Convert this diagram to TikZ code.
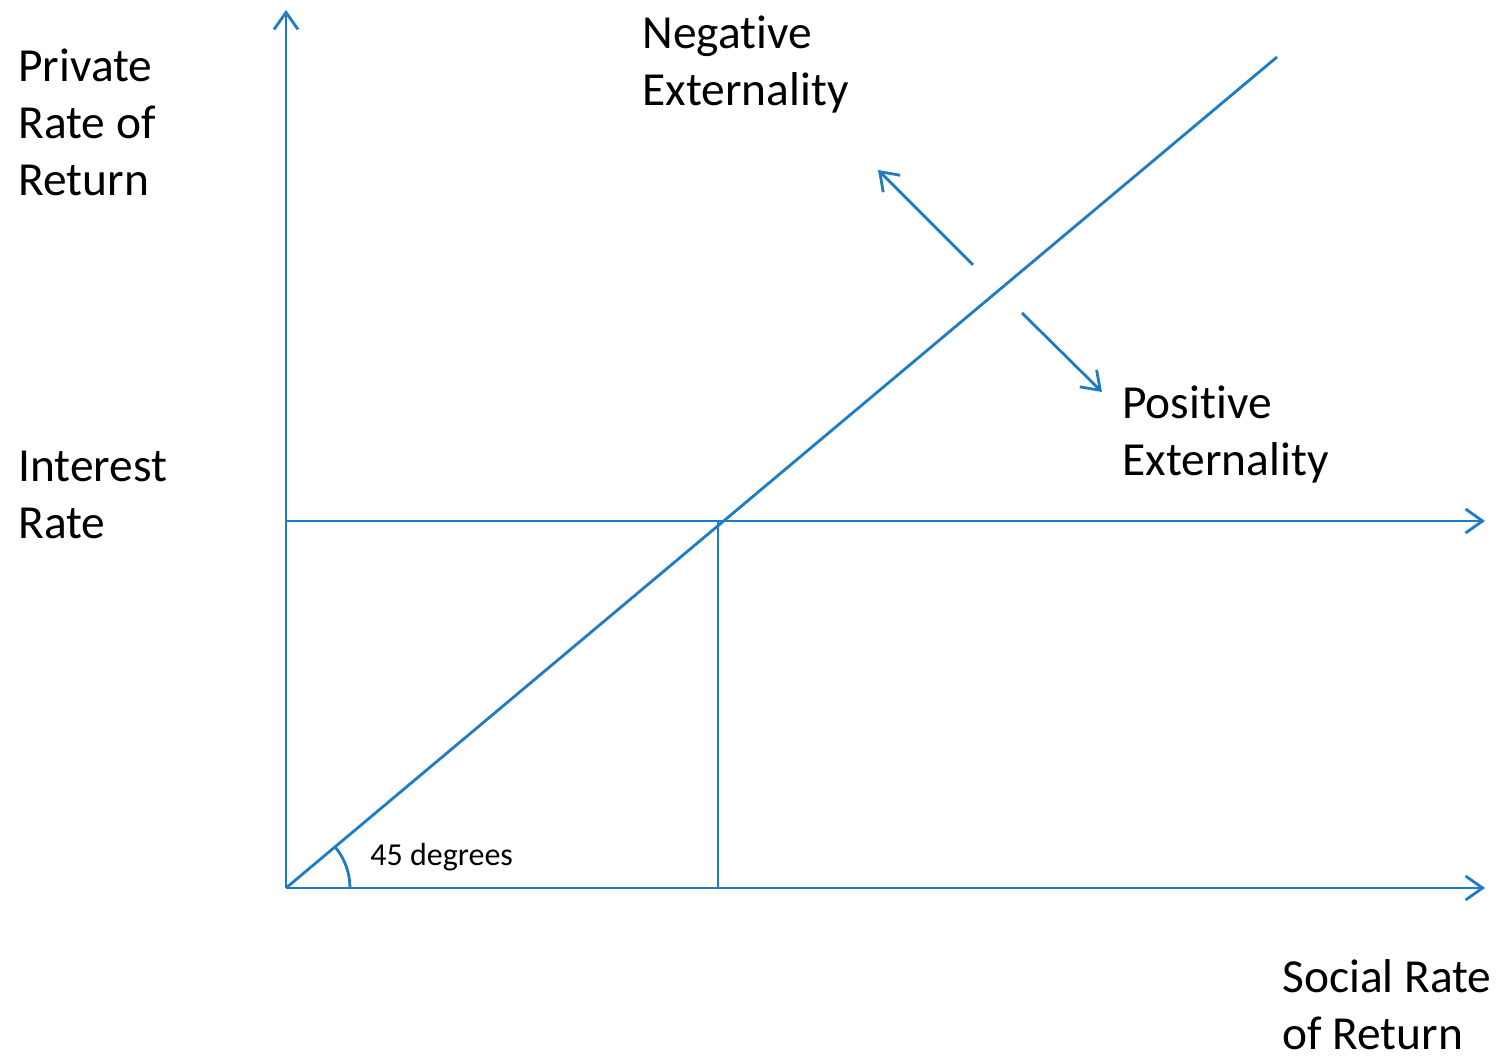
\documentclass[tikz,border=0pt]{standalone}
\usepackage{fontspec}
\setmainfont{Carlito}[Ligatures=NoCommon]
\usepackage{tikz}
\usetikzlibrary{positioning}
\usetikzlibrary{arrows.meta}
\definecolor{lineblue}{RGB}{31,124,196}

\begin{document}
\begin{tikzpicture}[line width=0.8pt, draw=lineblue, every node/.style={inner sep=0, align=left, font=\fontsize{13.5}{16.3}\selectfont}]
		\tikzset{>={Straight Barb[length=1.7mm, width=2.4mm]}}
		\tikzset{small/.style={font=\fontsize{9.1}{11}\selectfont}}
		\useasboundingbox (0,0) rectangle (15,10.59);

		\coordinate (origin) at (2.86,1.71);
		\coordinate (ytop) at (2.86,10.49);
		\coordinate (xend) at (14.85,1.71);
		\coordinate (rate) at (2.86,5.38);
		\coordinate (rateend) at (14.85,5.38);
		\coordinate (cross) at (7.18,5.38);
		\coordinate (crossfoot) at (7.18,1.71);
		\coordinate (diagend) at (12.77,10.02);

		% axes
		\draw[->, lineblue] (origin) -- (ytop);
		\draw[->, lineblue] (origin) -- (xend);
		\draw[->, lineblue] (rate) -- (rateend);
		\draw[lineblue] (cross) -- (crossfoot);
		\draw[lineblue] (origin) -- (diagend);
		\draw[lineblue] ([shift={(0.64,0)}]origin) arc[start angle=0, end angle=40, radius=0.64];

		% externality arrows
		\coordinate (negstart) at (9.73,7.94);
		\coordinate (negend) at (8.78,8.89);
		\coordinate (posstart) at (10.22,7.46);
		\coordinate (posend) at (11.02,6.67);
		\draw[->, lineblue] (negstart) -- (negend);
		\draw[->, lineblue] (posstart) -- (posend);

		% labels (base = last line)
		\node[anchor=base west] (private) at (0.17,8.63) {Private\\Rate of\\Return};
		\node[anchor=base west] (interest) at (0.17,5.20) {Interest\\Rate};
		\node[anchor=base west] (negative) at (6.41,9.53) {Negative\\Externality};
		\node[anchor=base west] (positive) at (11.21,5.83) {Positive\\Externality};
		\node[anchor=base west] (social) at (12.81,0.09) {Social Rate\\of Return};
		\node[small, anchor=base west] (angle) at (3.69,1.93) {45 degrees};
	\end{tikzpicture}
\end{document}
